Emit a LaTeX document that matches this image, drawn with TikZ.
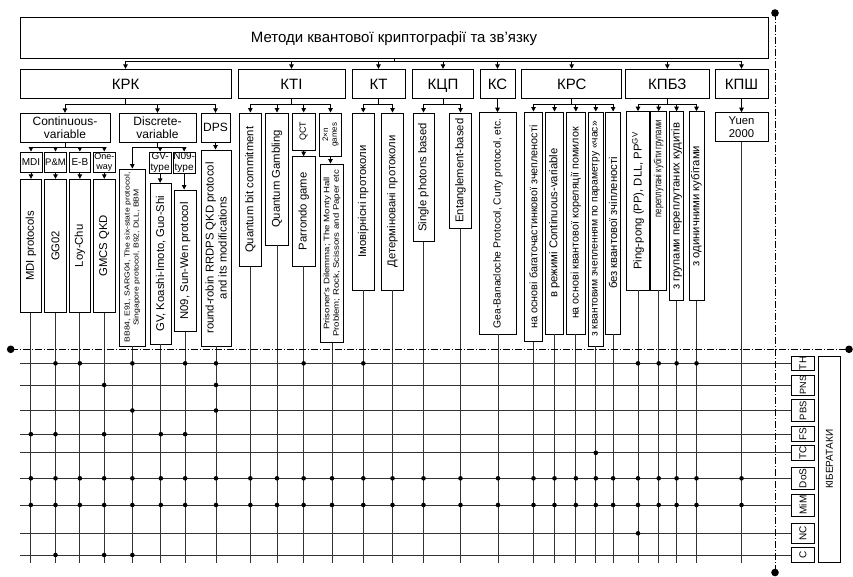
\documentclass[tikz,border=0pt]{standalone}
\usepackage{fontspec}
\setmainfont{Liberation Sans}
\newfontfamily\wfont[FakeStretch=1.2]{Liberation Sans}
\newfontfamily\nfont[FakeStretch=0.74]{Liberation Sans}
\usetikzlibrary{arrows.meta}
\newcommand\szT{\fontsize{15}{17}\selectfont}
\newcommand\szC{\fontsize{15}{17}\selectfont}
\newcommand\szM{\fontsize{12}{13.5}\selectfont}
\newcommand\szA{\fontsize{11.3}{13}\selectfont}
\newcommand\szR{\fontsize{10.8}{12}\selectfont}
\newcommand\szQ{\fontsize{10.3}{11}\selectfont}
\newcommand\szB{\fontsize{10}{10.5}\selectfont}
\newcommand\szE{\fontsize{9.5}{10}\selectfont}
\newcommand\szK{\fontsize{10.3}{11}\selectfont}
\newcommand\szD{\fontsize{9}{9.5}\selectfont}
\newcommand\szG{\fontsize{8}{8.8}\selectfont}
\newcommand\szS{\wfont\fontsize{7.2}{9}\selectfont}
\newcommand\szP{\wfont\fontsize{8}{9.5}\selectfont}
\newcommand\szN{\nfont\fontsize{10.3}{11}\selectfont}
\newcommand{\hbx}[7]{\node[bx,font=#7,minimum width={#4-#2},minimum height={#5-#3}] (#1) at ({(#2+#4)/2},{(#3+#5)/2}) {#6};}
\newcommand{\cbx}[7]{\node[bx,font=#7,text height=10.8pt,text depth=0pt,minimum width={#4-#2},minimum height={#5-#3}] (#1) at ({(#2+#4)/2},{(#3+#5)/2}) {#6};}
\newcommand{\vbx}[7]{\node[bx,minimum width={#4-#2},minimum height={#5-#3}] (#1) at ({(#2+#4)/2},{(#3+#5)/2}) {};
  \node[rotate=90,align=center,inner sep=0pt,font=#7] (#1-t) at (#1.center) {#6};}
\begin{document}
\begin{tikzpicture}[x=1pt,y=-1pt,
  bx/.style={draw,line width=0.9pt,inner sep=0pt,align=center},
  arr/.style={line width=0.9pt,-{Triangle[length=4.5pt,width=4.5pt]}},
  grd/.style={line width=0.9pt,black!80},
  dd/.style={line width=0.7pt,dash pattern=on 7pt off 2pt on 1pt off 2pt}]
\useasboundingbox (0,0) rectangle (853,577);
\fill[white] (0,0) rectangle (853,577);
% title and categories
\cbx{title}{20}{17}{768}{58}{Методи квантової криптографії та зв'язку}{\szT}
\cbx{krk}{20}{69.3}{231}{98.5}{КРК}{\szC}
\cbx{kti}{238}{69.3}{345}{98.5}{КТІ}{\szC}
\cbx{kt}{352}{69.3}{405}{98.5}{КТ}{\szC}
\cbx{kcp}{412.7}{69.3}{473.3}{98.5}{КЦП}{\szC}
\cbx{kc}{480}{69.3}{515}{98.5}{КС}{\szC}
\cbx{krs}{521.7}{69.3}{621.7}{98.5}{КРС}{\szC}
\cbx{kpbz}{625.7}{69.3}{709}{98.5}{КПБЗ}{\szC}
\cbx{kpsh}{715}{69.3}{768}{98.5}{КПШ}{\szC}
% KRK
\hbx{cv}{20}{113.3}{110}{142}{Continuous-\\variable}{\szM}
\hbx{dv}{119}{113.3}{196}{142}{Discrete-\\variable}{\szM}
\hbx{dps}{201}{113.3}{230}{142}{DPS}{\szM}
\hbx{mdi}{20}{152}{42}{172.5}{MDI}{\szB}
\hbx{pm}{44.3}{152}{66.7}{172.5}{P\&M}{\szE}
\hbx{eb}{69}{152}{90.7}{172.5}{E-B}{\szB}
\hbx{ow}{93.3}{152}{115.3}{172.5}{One-\\way}{\szD}
\vbx{mdip}{20}{179.3}{41.7}{312.3}{MDI protocols}{\szA}
\vbx{gg}{44.3}{179.3}{66.7}{312.3}{GG02}{\szA}
\vbx{lc}{69}{179.3}{90.7}{312.3}{Loy-Chu}{\szA}
\vbx{gm}{93.3}{179.3}{115}{312.3}{GMCS QKD}{\szA}
\vbx{bb}{119}{169}{145.7}{346}{BB84, E91, SARG04, The six-state protocol,\\Singapore protocol, B92, DLL, BBM}{\szS}
\hbx{gvt}{149.3}{152}{171}{173.3}{GV-\\type}{\szB}
\hbx{n9t}{173.3}{152}{195}{173.3}{N09-\\type}{\szB}
\vbx{gv}{150}{183.3}{171.7}{344}{GV, Koashi-Imoto, Guo-Shi}{\szA}
\vbx{n9}{174.3}{190}{196}{331.7}{N09, Sun-Wen protocol}{\szA}
\vbx{rr}{201}{150}{231}{346}{round-robin RRDPS QKD protocol\\and its modifications}{\szA}
% KTI
\vbx{qbc}{239}{113}{261.7}{266.7}{Quantum bit commitment}{\szA}
\vbx{qg}{265.7}{113}{288.3}{245}{Quantum Gambling}{\szA}
\vbx{qct}{292.3}{113}{315}{150}{QCT}{\szD}
\vbx{par}{292.3}{156.7}{315}{266}{Parrondo game}{\szA}
\vbx{tg}{319.5}{113}{341.5}{156.7}{2×n\\games}{\szG}
\vbx{pr}{320.5}{164}{343.5}{342.7}{Prisoner's Dilemma; The Monty Hall\\Problem; Rock, Scissors and Paper etc}{\szP}
% KT
\vbx{imv}{352.3}{113}{374.3}{290}{Імовірнісні протоколи}{\szA}
\vbx{det}{381.7}{113}{403.3}{290}{Детерміновані протоколи}{\szA}
% KCP
\vbx{sp}{413}{113}{434}{241.7}{Single photons based}{\szA}
\vbx{eg}{449.3}{113}{471.7}{228.3}{Entanglement-based}{\szA}
% KC
\vbx{gb}{479.3}{112.7}{516.7}{334}{Gea-Banacloche Protocol, Curty protocol, etc.}{\szK}
% KRS
\vbx{ra}{524.3}{112}{542.7}{341.7}{на основі багаточастинкової зчепленості}{\szR}
\vbx{rb}{545.7}{112}{563.3}{334}{в режимі Continuous-variable}{\szA}
\vbx{rc}{566.7}{112}{585}{334}{на основі квантової кореляції помилок}{\szR}
\vbx{rd}{588.3}{112}{603.3}{346}{з квантовим зчепленням по параметру «час»}{\szQ}
\vbx{re}{605.7}{112}{620.5}{334}{без квантової зчіпленості}{\szA}
% KPBZ
\vbx{pp}{626.7}{111.7}{649.3}{290}{Ping-pong (PP), DLL, PP\textsuperscript{GV}}{\szA}
\node[bx,minimum width=16,minimum height=178.3] (pk) at (658.7,200.85) {};
\node[rotate=90,anchor=east,inner sep=0pt,font=\szN] (pk-t) at ([yshift=-9pt]pk.north) {переплутані кубіти групами};
\vbx{zg}{669.5}{111.7}{683.7}{300.7}{з групами переплутаних кудитів}{\szA}
\vbx{zo}{689}{111.7}{704}{300.7}{з одиничними кубітами}{\szA}
% KPSH
\hbx{yu}{715}{112.7}{768}{141.7}{Yuen\\2000}{\szA}
% attacks
\vbx{th}{791.7}{356}{814.3}{370.7}{TH}{\szB}
\vbx{pns}{791.7}{375}{814.3}{395}{PNS}{\szD}
\vbx{pbs}{791.7}{399.3}{814.3}{421.7}{PBS}{\szE}
\vbx{fs}{791.7}{426.7}{814.3}{441.7}{FS}{\szB}
\vbx{tc}{791.7}{445.7}{814.3}{460}{TC}{\szB}
\vbx{dos}{791.7}{467.3}{814.3}{489.3}{DoS}{\szB}
\vbx{mim}{791.7}{494}{814.3}{516}{MiM}{\szB}
\vbx{nc}{791.7}{523.3}{814.3}{543.3}{NC}{\szB}
\vbx{cc}{791.7}{547.3}{814.3}{562.7}{C}{\szB}
\vbx{kib}{818.3}{356}{840.7}{562.7}{КІБЕРАТАКИ}{\szB}
% connectors
\foreach \c in {krk,kti,kt,kcp,kc,krs,kpbz,kpsh}
  \draw[arr] (title.south) -- ++(0,3) -| (\c.north);
\foreach \p/\cs in {krk/{cv,dv,dps},kti/{qbc,qg,qct,tg},kt/{imv,det},kcp/{sp,eg},krs/{ra,rb,rc,rd,re},kpbz/{pp,pk,zg,zo}}
  \foreach \c in \cs
    \draw[arr] (\p.south) -- ++(0,6) -| (\c.north);
\foreach \c in {mdi,pm,eb,ow}
  \draw[arr] (cv.south) -- ++(0,5) -| (\c.north);
\foreach \c in {bb,gvt,n9t}
  \draw[arr] (dv.south) -- ++(0,5) -| (\c.north);
\foreach \a/\b in {kc/gb,kpsh/yu,dps/rr,mdi/mdip,pm/gg,eb/lc,ow/gm,gvt/gv,n9t/n9,qct/par,tg/pr}
  \draw[arr] (\a.south) -- (\a.south |- \b.north);
% grid
\coordinate (gl) at (20,0);
\coordinate (gbot) at (0,562.7);
\foreach \c in {mdip,gg,lc,gm,bb,gv,n9,rr,qbc,qg,par,pr,imv,det,sp,eg,gb,ra,rb,rc,rd,re,pp,pk,zg,zo,yu}
  \draw[grd] (\c.south) -- (\c.south |- gbot);
\foreach \r in {th,pns,pbs,fs,tc,dos,mim,nc,cc}
  \draw[grd] (\r.west) -- (\r.west -| gl);
\foreach \r/\cs in {th/{gg,lc,bb,n9,rr,par,imv,pp,pk,zg,zo},pns/{gm,rr},pbs/{bb,rr},fs/{mdip,gg,gm,gv,n9},tc/{rd},
  dos/{mdip,gg,lc,gm,bb,gv,n9,rr,qbc,qg,par,pr,imv,det,sp,eg,gb,ra,rb,rc,rd,re,pp,pk,zg,zo,yu},
  mim/{mdip,gg,lc,gm,bb,gv,n9,rr,qbc,qg,par,pr,imv,det,sp,eg,gb,ra,rb,rc,rd,re,pp,pk,zg,zo,yu},
  nc/{pp},cc/{gg,gm,bb}}
  \foreach \c in \cs
    \fill (\c.south |- \r.west) circle (2.3);
% dash-dot axes
\coordinate (dl) at (10.7,349.3);
\coordinate (dr) at (849,349.3);
\coordinate (dt) at (775,13);
\coordinate (db) at (775,572.5);
\draw[dd] (dl) -- (dr);
\draw[dd] (dt) -- (db);
\foreach \p in {dl,dr,dt,db} \fill (\p) circle (3.8);
\end{tikzpicture}
\end{document}
